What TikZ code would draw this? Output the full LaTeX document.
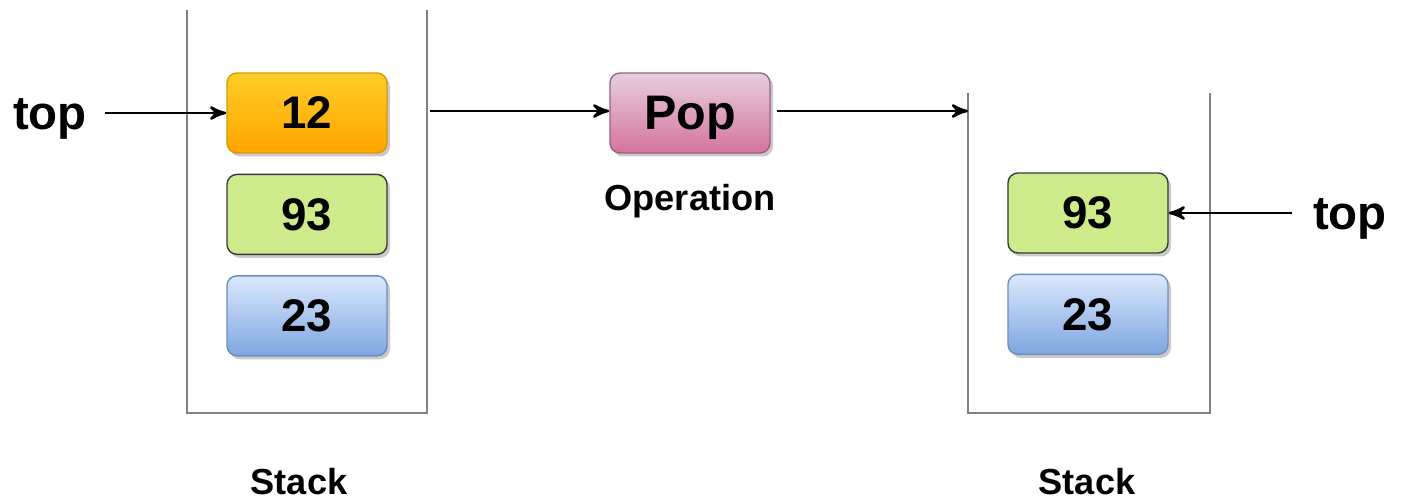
\documentclass[tikz,border=0pt]{standalone}
\usepackage{fontspec}
\setmainfont{Liberation Sans}
\usetikzlibrary{arrows,positioning,shadows}
\definecolor{orangetop}{HTML}{FFCD28}
\definecolor{orangebot}{HTML}{FFA500}
\definecolor{orangeline}{HTML}{D79B00}
\definecolor{greenfill}{HTML}{CDEB8B}
\definecolor{greenline}{HTML}{36393D}
\definecolor{bluetop}{HTML}{DAE8FC}
\definecolor{bluebot}{HTML}{7EA6E0}
\definecolor{blueline}{HTML}{6C8EBF}
\definecolor{pinktop}{HTML}{E6D0DE}
\definecolor{pinkbot}{HTML}{D5739D}
\definecolor{pinkline}{HTML}{996185}
\definecolor{wallgray}{HTML}{808080}

\begin{document}
\begin{tikzpicture}[>=stealth',line width=0.7pt,node distance=0.2cm,
    item/.style={rectangle,rounded corners=0.1cm,draw,line width=0.4pt,
      minimum width=1.6cm,minimum height=0.8cm,
      font=\fontsize{13}{15}\selectfont\bfseries,
      drop shadow={shadow xshift=0.03cm,shadow yshift=-0.035cm,fill=black!35,opacity=0.6}},
    orangebox/.style={item,draw=orangeline,top color=orangetop,bottom color=orangebot},
    greenbox/.style={item,draw=greenline,fill=greenfill},
    bluebox/.style={item,draw=blueline,top color=bluetop,bottom color=bluebot},
    pinkbox/.style={item,draw=pinkline,top color=pinktop,bottom color=pinkbot,text depth=0pt,
      font=\fontsize{13.8}{15}\selectfont\bfseries},
    label/.style={font=\fontsize{13.5}{15}\selectfont\bfseries},
    caption/.style={font=\fontsize{10.3}{12}\selectfont\bfseries},
    wall/.style={draw=wallgray,line width=0.55pt}]
  \useasboundingbox (0,0) rectangle (14.05,5);

  % left stack
  \draw[wall] (1.87,4.90) -- (1.87,0.87) -- (4.27,0.87) -- (4.27,4.90);
  \node[orangebox] (l12) at (3.07,3.87) {12};
  \node[greenbox] (l93) [below=of l12] {93};
  \node[bluebox] (l23) [below=of l93] {23};
  \node[caption] (lstack) at (2.99,0.18) {Stack};
  \node[label] (ltop) at (0.50,3.81) {top};
  \coordinate (lwall) at (4.30,3.89);

  % operation
  \node[pinkbox] (pop) at (6.90,3.87) {Pop};
  \node[caption] (op) at (6.90,2.99) {Operation};

  % right stack
  \draw[wall] (9.68,4.07) -- (9.68,0.87) -- (12.10,0.87) -- (12.10,4.07);
  \node[greenbox] (r93) at (10.88,2.87) {93};
  \node[bluebox] (r23) [below=of r93] {23};
  \node[caption] (rstack) at (10.87,0.18) {Stack};
  \node[label] (rtop) at (13.50,2.81) {top};
  \coordinate (rwall) at (9.68,3.89);

  \draw[->] (ltop.east) ++(0.05,0.06) -- (l12.west);
  \draw[->] (lwall) -- (lwall -| pop.west);
  \draw[->] (pop.east |- rwall) ++(0.06,0) -- (rwall);
  \draw[->] (rtop.west) ++(-0.08,0.06) -- (r93.east);
\end{tikzpicture}
\end{document}
